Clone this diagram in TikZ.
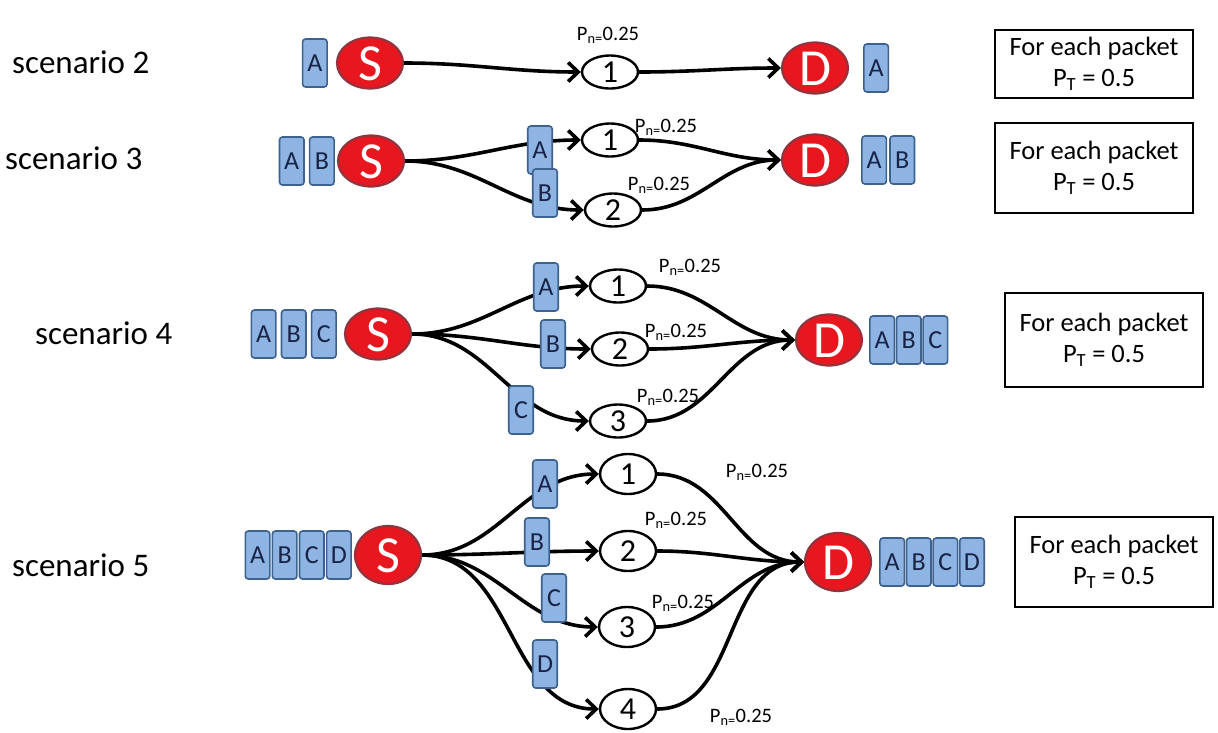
\documentclass[tikz,border=0pt]{standalone}
\usepackage{fontspec}
\setmainfont{Carlito}
\usepackage{tikz}
\usetikzlibrary{positioning}
\usetikzlibrary{shapes.geometric}
\usetikzlibrary{arrows.meta}

\definecolor{pktfill}{RGB}{141,180,226}
\definecolor{pktedge}{RGB}{62,98,142}
\definecolor{pkttext}{RGB}{25,35,70}
\definecolor{endfill}{RGB}{232,22,30}
\definecolor{endedge}{RGB}{145,52,62}

\tikzset{
  pkt/.style={draw=pktedge,fill=pktfill,rounded corners=3pt,line width=1.6pt,minimum width=24.5pt,minimum height=48pt,inner sep=0pt,text=pkttext,font=\fontsize{26}{26}\selectfont,text height=17pt,text depth=0pt},
  endpt/.style={ellipse,draw=endedge,fill=endfill,line width=2.2pt,minimum width=66pt,minimum height=51pt,inner sep=0pt,text=white,font=\fontsize{52}{52}\selectfont,text height=34pt,text depth=0pt},
  relay/.style={ellipse,draw,line width=2.4pt,fill=white,minimum width=56pt,minimum height=33pt,inner sep=0pt,font=\fontsize{32}{32}\selectfont,text height=21pt,text depth=0pt},
  prob/.style={inner sep=0pt,font=\fontsize{20.5}{20.5}\selectfont},
  scen/.style={anchor=west,inner sep=0pt,font=\fontsize{33}{33}\selectfont},
  infobox/.style={draw,line width=2.6pt,align=center,minimum width=198pt,inner sep=0pt,font=\fontsize{26.5}{31}\selectfont},
  link/.style={line width=3.6pt,-{Straight Barb[length=10pt,width=19pt]}}
}

\begin{document}
\begin{tikzpicture}[x=1pt,y=-1pt]
  \useasboundingbox (0,0) rectangle (1218,732);

  % scenario 2
  \node at (12,62) [scen] (s2) {scenario 2};
  \node at (370,63) [endpt] (s2S) {S};
  \node [pkt,left=8pt of s2S] (s2pA) {A};
  \node at (610,72) [relay] (s2n1) {1};
  \node at (608,35) [prob] (s2p1) {P\textsubscript{n=}0.25};
  \node at (815,68) [endpt] (s2D) {D};
  \node [pkt,right=14pt of s2D] (s2qA) {A};
  \node at (1094,64) [infobox,minimum height=68pt] (s2box) {For each packet\\P\textsubscript{T} = 0.5};

  \path[link] (s2S) edge[out=0,in=180] (s2n1);
  \path[link] (s2n1) edge[out=0,in=180] (s2D);

  % scenario 3
  \node at (5,158) [scen] (s3) {scenario 3};
  \node at (371,161) [endpt] (s3S) {S};
  \node [pkt,left=2pt of s3S] (s3pB) {B};
  \node [pkt,left=4pt of s3pB] (s3pA) {A};
  \node at (610,140) [relay] (s3n1) {1};
  \node at (613,210) [relay] (s3n2) {2};
  \node at (666,127) [prob] (s3p1) {P\textsubscript{n=}0.25};
  \node at (659,185) [prob] (s3p2) {P\textsubscript{n=}0.25};
  \node at (815,160) [endpt] (s3D) {D};
  \node [pkt,right=12pt of s3D] (s3qA) {A};
  \node [pkt,right=2pt of s3qA] (s3qB) {B};
  \node at (1094,168) [infobox,minimum height=90pt] (s3box) {For each packet\\P\textsubscript{T} = 0.5};

  \path[link] (s3S) edge[out=0,in=180] (s3n1);
  \path[link] (s3S) edge[out=0,in=180] (s3n2);
  \path[link] (s3n1) edge[out=0,in=180] (s3D);
  \path[link] (s3n2) edge[out=0,in=180] (s3D);
  \node at (540,150) [pkt] (s3tA) {A};
  \node at (545,193) [pkt] (s3tB) {B};

  % scenario 4
  \node at (35,333) [scen] (s4) {scenario 4};
  \node at (378,334) [endpt] (s4S) {S};
  \node [pkt,left=7pt of s4S] (s4pC) {C};
  \node [pkt,left=4pt of s4pC] (s4pB) {B};
  \node [pkt,left=4pt of s4pB] (s4pA) {A};
  \node at (618,286) [relay] (s4n1) {1};
  \node at (620,349) [relay] (s4n2) {2};
  \node at (618,421) [relay] (s4n3) {3};
  \node at (690,267) [prob] (s4p1) {P\textsubscript{n=}0.25};
  \node at (676,332) [prob] (s4p2) {P\textsubscript{n=}0.25};
  \node at (668,397) [prob] (s4p3) {P\textsubscript{n=}0.25};
  \node at (829,340) [endpt] (s4D) {D};
  \node [pkt,right=6pt of s4D] (s4qA) {A};
  \node [pkt,right=0.5pt of s4qA] (s4qB) {B};
  \node [pkt,right=0.5pt of s4qB] (s4qC) {C};
  \node at (1104,340) [infobox,minimum height=94pt] (s4box) {For each packet\\P\textsubscript{T} = 0.5};

  \path[link] (s4S) edge[out=0,in=180] (s4n1);
  \path[link] (s4S) edge[out=0,in=180] (s4n2);
  \path[link] (s4S) edge[out=0,in=180] (s4n3);
  \path[link] (s4n1) edge[out=0,in=180] (s4D);
  \path[link] (s4n2) edge[out=0,in=180] (s4D);
  \path[link] (s4n3) edge[out=0,in=180] (s4D);
  \node at (546,287) [pkt] (s4tA) {A};
  \node at (553,344) [pkt] (s4tB) {B};
  \node at (521,410) [pkt] (s4tC) {C};

  % scenario 5
  \node at (12,565) [scen] (s5) {scenario 5};
  \node at (388,555) [endpt,minimum height=58pt] (s5S) {S};
  \node [pkt,left=2pt of s5S] (s5pD) {D};
  \node [pkt,left=1pt of s5pD] (s5pC) {C};
  \node [pkt,left=1pt of s5pC] (s5pB) {B};
  \node [pkt,left=1pt of s5pB] (s5pA) {A};
  \node at (628,474) [relay,minimum height=40pt] (s5n1) {1};
  \node at (628,551) [relay,minimum height=40pt] (s5n2) {2};
  \node at (627,627) [relay,minimum height=40pt] (s5n3) {3};
  \node at (628,709) [relay,minimum height=40pt] (s5n4) {4};
  \node at (757,472) [prob] (s5p1) {P\textsubscript{n=}0.25};
  \node at (676,520) [prob] (s5p2) {P\textsubscript{n=}0.25};
  \node at (683,603) [prob] (s5p3) {P\textsubscript{n=}0.25};
  \node at (741,717) [prob] (s5p4) {P\textsubscript{n=}0.25};
  \node at (838,562) [endpt,minimum height=58pt] (s5D) {D};
  \node [pkt,right=7pt of s5D] (s5qA) {A};
  \node [pkt,right=0.5pt of s5qA] (s5qB) {B};
  \node [pkt,right=0.5pt of s5qB] (s5qC) {C};
  \node [pkt,right=0.5pt of s5qC] (s5qD) {D};
  \node at (1114,562) [infobox,minimum height=90pt] (s5box) {For each packet\\P\textsubscript{T} = 0.5};

  \path[link] (s5S) edge[out=0,in=180] (s5n1);
  \path[link] (s5S) edge[out=0,in=180] (s5n2);
  \path[link] (s5S) edge[out=0,in=180] (s5n3);
  \path[link] (s5S) edge[out=0,in=180] (s5n4);
  \path[link] (s5n1) edge[out=0,in=180] (s5D);
  \path[link] (s5n2) edge[out=0,in=180] (s5D);
  \path[link] (s5n3) edge[out=0,in=180] (s5D);
  \path[link] (s5n4) edge[out=0,in=180] (s5D);
  \node at (545,484) [pkt] (s5tA) {A};
  \node at (537,542) [pkt] (s5tB) {B};
  \node at (554,598) [pkt] (s5tC) {C};
  \node at (545,664) [pkt] (s5tD) {D};
\end{tikzpicture}
\end{document}
